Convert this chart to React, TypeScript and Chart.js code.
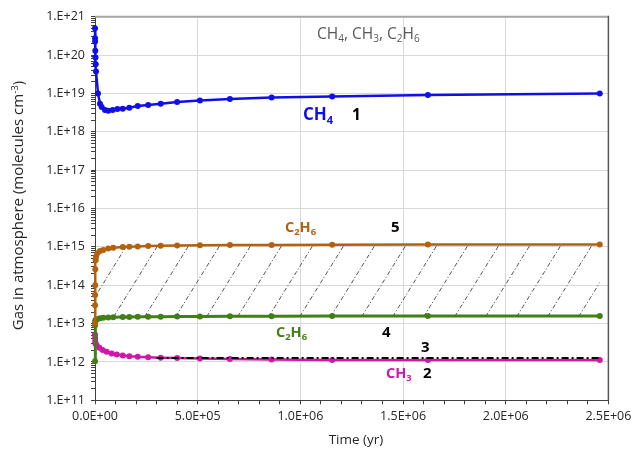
import React, { useEffect, useRef } from "react";
import { Chart, registerables } from "chart.js";

Chart.register(...registerables);

// ---------------- data ----------------
const ch4Time = [0, 300, 700, 1500, 2500, 3500, 5000, 14600, 24300, 32600, 48700, 64700, 86000, 109000, 135000, 167000, 208000, 259000, 320000, 400000, 511000, 657000, 860000, 1155000, 1621000, 2458000];
const ch4Values = [5.0e20, 2.75e20, 2.24e20, 1.29e20, 8.7e19, 5.75e19, 3.7e19, 1.0e19, 5.4e18, 4.4e18, 3.7e18, 3.55e18, 3.7e18, 3.9e18, 4.0e18, 4.25e18, 4.7e18, 5.0e18, 5.4e18, 6.0e18, 6.5e18, 7.2e18, 7.8e18, 8.3e18, 9.1e18, 9.9e18];

const c2h6UpperTime = [0, 300, 600, 900, 1500, 3400, 4900, 11200, 24300, 40400, 64700, 89000, 135000, 167000, 208000, 259000, 320000, 400000, 511000, 657000, 860000, 1155000, 1621000, 2458000];
const c2h6UpperValues = [1.0e13, 3.0e13, 5.6e13, 1.0e14, 2.6e14, 4.5e14, 5.5e14, 6.8e14, 7.8e14, 8.3e14, 9.1e14, 9.5e14, 9.9e14, 1.0e15, 1.02e15, 1.05e15, 1.07e15, 1.08e15, 1.1e15, 1.11e15, 1.12e15, 1.135e15, 1.15e15, 1.15e15];

const c2h6LowerTime = [0, 200, 800, 1500, 4000, 11200, 24300, 40400, 64700, 89000, 135000, 167000, 208000, 259000, 320000, 400000, 511000, 657000, 860000, 1155000, 1621000, 2458000];
const c2h6LowerValues = [1.05e12, 9.0e12, 1.08e13, 1.2e13, 1.26e13, 1.3e13, 1.38e13, 1.42e13, 1.45e13, 1.47e13, 1.48e13, 1.49e13, 1.5e13, 1.5e13, 1.51e13, 1.53e13, 1.54e13, 1.55e13, 1.56e13, 1.57e13, 1.57e13, 1.58e13];

const ch3Time = [0, 500, 1000, 2500, 8000, 21000, 37000, 57000, 81000, 106000, 135000, 167000, 208000, 259000, 320000, 400000, 511000, 657000, 860000, 1155000, 1621000, 2458000];
const ch3Values = [5.2e12, 4.2e12, 3.4e12, 3.0e12, 2.75e12, 2.34e12, 2.04e12, 1.84e12, 1.66e12, 1.57e12, 1.48e12, 1.41e12, 1.36e12, 1.33e12, 1.29e12, 1.26e12, 1.23e12, 1.2e12, 1.15e12, 1.13e12, 1.12e12, 1.12e12];

const refLineTime = [300000, 2458000];
const refLineValues = [1.26e12, 1.26e12];

const xMajorTicks = [0, 5e5, 1e6, 1.5e6, 2e6, 2.5e6];
const xTickLabels = ["0.0E+00", "5.0E+05", "1.0E+06", "1.5E+06", "2.0E+06", "2.5E+06"];
const yMajorExponents = [11, 12, 13, 14, 15, 16, 17, 18, 19, 20, 21];
const yTickLabels = ["1.E+11", "1.E+12", "1.E+13", "1.E+14", "1.E+15", "1.E+16", "1.E+17", "1.E+18", "1.E+19", "1.E+20", "1.E+21"];

// ---------------- styles ----------------
const FONT = '"Open Sans", "Noto Sans", sans-serif';
const BLUE = "#1010E6";
const BROWN = "#B4610E";
const GREEN = "#427F17";
const MAGENTA = "#CF17A8";
const GRID = "#D9D9D9";
const AXIS = "#404040";
const TEXT = "#262626";

type Part = [string, number]; // 0 normal, 1 subscript, -1 superscript
interface Label { parts: Part[]; x: number; y: number; size: number; bold: boolean; color: string; }

const labels: Label[] = [
  { parts: [["CH", 0], ["4", 1], [", CH", 0], ["3", 1], [", C", 0], ["2", 1], ["H", 0], ["6", 1]], x: 317, y: 39, size: 15.5, bold: false, color: "#595959" },
  { parts: [["CH", 0], ["4", 1]], x: 303, y: 120, size: 17, bold: true, color: BLUE },
  { parts: [["1", 0]], x: 352, y: 120, size: 15.5, bold: true, color: "#000" },
  { parts: [["C", 0], ["2", 1], ["H", 0], ["6", 1]], x: 285, y: 232, size: 14.5, bold: true, color: BROWN },
  { parts: [["5", 0]], x: 391, y: 232, size: 15, bold: true, color: "#000" },
  { parts: [["C", 0], ["2", 1], ["H", 0], ["6", 1]], x: 276, y: 337, size: 14.5, bold: true, color: GREEN },
  { parts: [["4", 0]], x: 382, y: 337, size: 15, bold: true, color: "#000" },
  { parts: [["3", 0]], x: 421, y: 352, size: 15, bold: true, color: "#000" },
  { parts: [["CH", 0], ["3", 1]], x: 386, y: 378, size: 14.5, bold: true, color: MAGENTA },
  { parts: [["2", 0]], x: 423, y: 378, size: 15, bold: true, color: "#000" },
];

const yTitleParts: Part[] = [["Gas in atmosphere (molecules cm", 0], ["-3", -1], [")", 0]];
const xTitle = "Time (yr)";

function fontStr(size: number, bold: boolean) {
  return `${bold ? "bold " : ""}${size}px ${FONT}`;
}

function richWidth(ctx: CanvasRenderingContext2D, parts: Part[], size: number, bold: boolean) {
  let w = 0;
  for (const [t, k] of parts) {
    ctx.font = fontStr(k ? size * 0.65 : size, bold);
    w += ctx.measureText(t).width;
  }
  return w;
}

function drawRich(ctx: CanvasRenderingContext2D, parts: Part[], x: number, y: number, size: number, bold: boolean, color: string) {
  let cx = x;
  ctx.fillStyle = color;
  ctx.textBaseline = "alphabetic";
  ctx.textAlign = "left";
  for (const [t, k] of parts) {
    const s = k ? size * 0.65 : size;
    ctx.font = fontStr(s, bold);
    const dy = k === 1 ? size * 0.22 : k === -1 ? -size * 0.38 : 0;
    ctx.fillText(t, cx, y + dy);
    cx += ctx.measureText(t).width;
  }
}

function makeHatch(): CanvasPattern | string {
  const W = 31, H = 50;
  const c = document.createElement("canvas");
  c.width = W;
  c.height = H;
  const g = c.getContext("2d");
  if (!g) return "rgba(0,0,0,0)";
  g.strokeStyle = "#555555";
  g.lineWidth = 1;
  const unit = Math.hypot(W, H) / 6;
  g.setLineDash([unit * 0.45, unit * 0.2, unit * 0.12, unit * 0.23]);
  for (const dx of [-W, 0, W]) {
    g.beginPath();
    g.moveTo(dx - W, 2 * H);
    g.lineTo(dx + 2 * W, -H);
    g.stroke();
  }
  return g.createPattern(c, "repeat") || "rgba(0,0,0,0)";
}

const xAllTicks: number[] = [];
for (let v = 0; v <= 2.5e6 + 1; v += 1e5) xAllTicks.push(Math.round(v));
const yAllTicks: number[] = [];
for (const e of yMajorExponents) {
  if (e === 21) { yAllTicks.push(1e21); break; }
  for (let m = 1; m <= 9; m++) yAllTicks.push(Number(`${m}e${e}`));
}
const isXMajor = (v: number) => xMajorTicks.some((t) => Math.abs(t - v) < 1);
const yMajorIndex = (v: number) => yMajorExponents.findIndex((e) => Math.abs(Math.log10(v) - e) < 1e-9);

const overlayPlugin = {
  id: "overlay",
  afterDraw(chart: any) {
    const ctx: CanvasRenderingContext2D = chart.ctx;
    const a = chart.chartArea;
    ctx.save();
    ctx.strokeStyle = "#A6A6A6";
    ctx.lineWidth = 2;
    ctx.beginPath();
    ctx.moveTo(a.left, a.top);
    ctx.lineTo(a.right, a.top);
    ctx.stroke();
    ctx.strokeStyle = "#595959";
    ctx.lineWidth = 1.5;
    ctx.beginPath();
    ctx.moveTo(a.right, a.top - 1);
    ctx.lineTo(a.right, a.bottom);
    ctx.stroke();

    for (const l of labels) drawRich(ctx, l.parts, l.x, l.y, l.size, l.bold, l.color);

    // y axis title
    const ys = 15;
    ctx.save();
    ctx.translate(18, 205.5);
    ctx.rotate(-Math.PI / 2);
    const w = richWidth(ctx, yTitleParts, ys, false);
    drawRich(ctx, yTitleParts, -w / 2, ys * 0.36, ys, false, TEXT);
    ctx.restore();

    // x axis title
    ctx.font = fontStr(13.5, false);
    ctx.fillStyle = TEXT;
    ctx.textAlign = "center";
    ctx.textBaseline = "middle";
    ctx.fillText(xTitle, 356, 440);
    ctx.restore();
  },
};

function toPoints(xs: number[], ys: number[]) {
  return xs.map((x, i) => ({ x, y: ys[i] }));
}

function lineDs(label: string, xs: number[], ys: number[], color: string, width: number, radius: number) {
  return {
    label,
    data: toPoints(xs, ys),
    borderColor: color,
    backgroundColor: color,
    pointBackgroundColor: color,
    pointBorderColor: color,
    pointBorderWidth: 0,
    pointRadius: radius,
    pointHoverRadius: radius,
    borderWidth: width,
    tension: 0,
    fill: false as any,
    clip: 8,
  };
}

export default function App() {
  const ref = useRef<HTMLCanvasElement | null>(null);
  useEffect(() => {
    if (!ref.current) return;
    const hatch = makeHatch();
    const upper: any = lineDs("C2H6 (5)", c2h6UpperTime, c2h6UpperValues, BROWN, 2.5, 3);
    upper.fill = { target: 2, above: hatch, below: hatch };
    const refLine: any = lineDs("3", refLineTime, refLineValues, "#000000", 2, 0);
    refLine.borderDash = [7, 3, 2, 3];
    const chart = new Chart(ref.current, {
      type: "line",
      data: {
        datasets: [
          lineDs("CH4", ch4Time, ch4Values, BLUE, 2.5, 3),
          upper,
          lineDs("C2H6 (4)", c2h6LowerTime, c2h6LowerValues, GREEN, 3, 3),
          refLine,
          lineDs("CH3", ch3Time, ch3Values, MAGENTA, 2.5, 3),
        ],
      },
      options: {
        responsive: false,
        animation: false,
        events: [],
        layout: { padding: { left: 0, right: 23.6, top: 16.7, bottom: 0 } },
        plugins: { legend: { display: false }, tooltip: { enabled: false } },
        scales: {
          x: {
            type: "linear",
            min: 0,
            max: 2.5e6,
            afterBuildTicks: (s: any) => { s.ticks = xAllTicks.map((v) => ({ value: v })); },
            afterFit: (s: any) => { s.height = 49.7; s.paddingLeft = 0; s.paddingRight = 0; },
            ticks: {
              autoSkip: false,
              maxRotation: 0,
              minRotation: 0,
              padding: 5,
              color: TEXT,
              font: { family: FONT, size: 12.5 },
              callback: (v: any) => {
                const i = xMajorTicks.findIndex((t) => Math.abs(t - Number(v)) < 1);
                return i >= 0 ? xTickLabels[i] : "";
              },
            },
            grid: {
              color: (c: any) => (c.tick && isXMajor(c.tick.value) ? GRID : "rgba(0,0,0,0)"),
              tickColor: AXIS,
              tickLength: 4,
              drawTicks: true,
              lineWidth: 1,
            },
            border: { display: true, color: AXIS, width: 1 },
          },
          y: {
            type: "logarithmic",
            min: 1e11,
            max: 1e21,
            afterBuildTicks: (s: any) => { s.ticks = yAllTicks.map((v) => ({ value: v })); },
            afterFit: (s: any) => { s.width = 95; s.paddingTop = 0; s.paddingBottom = 0; },
            ticks: {
              autoSkip: false,
              padding: 6,
              color: TEXT,
              font: { family: FONT, size: 12.5 },
              callback: (v: any) => {
                const i = yMajorIndex(Number(v));
                return i >= 0 ? yTickLabels[i] : "";
              },
            },
            grid: {
              color: (c: any) => (c.tick && yMajorIndex(c.tick.value) >= 0 ? GRID : "rgba(0,0,0,0)"),
              tickColor: AXIS,
              tickLength: 4,
              drawTicks: true,
              lineWidth: 1,
            },
            border: { display: true, color: AXIS, width: 1 },
          },
        },
      },
      plugins: [overlayPlugin],
    } as any);
    return () => chart.destroy();
  }, []);
  return (
    <div style={{ position: "absolute", left: 0, top: 0, width: 632, height: 450, background: "#fff" }}>
      <canvas ref={ref} width={632} height={450} style={{ display: "block", width: 632, height: 450 }} />
    </div>
  );
}
